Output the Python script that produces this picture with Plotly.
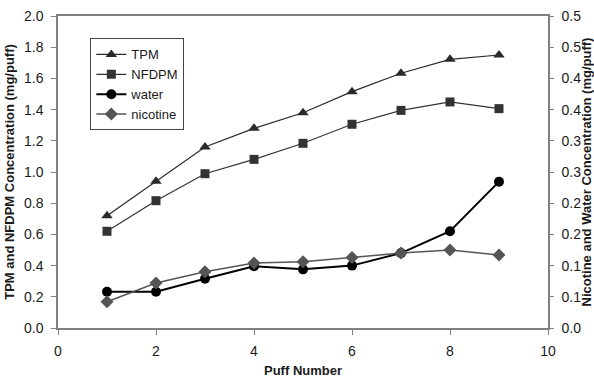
import plotly.graph_objects as go

puff = [1, 2, 3, 4, 5, 6, 7, 8, 9]
tpm = [0.72, 0.94, 1.16, 1.28, 1.38, 1.515, 1.633, 1.722, 1.75]
nfdpm = [0.62, 0.816, 0.989, 1.081, 1.184, 1.306, 1.395, 1.449, 1.406]
water = [0.058, 0.058, 0.079, 0.099, 0.094, 0.100, 0.120, 0.155, 0.2345]
nicotine = [0.042, 0.072, 0.090, 0.104, 0.106, 0.113, 0.120, 0.125, 0.117]

left_tickvals = [0, 0.2, 0.4, 0.6, 0.8, 1.0, 1.2, 1.4, 1.6, 1.8, 2.0]
right_tickvals = [0, 0.05, 0.1, 0.15, 0.2, 0.25, 0.3, 0.35, 0.4, 0.45, 0.5]
right_ticktext = ["0.0", "0.1", "0.1", "0.2", "0.2", "0.3", "0.3", "0.4", "0.4", "0.5", "0.5"]
x_tickvals = [0, 2, 4, 6, 8, 10]

font = "Liberation Sans, Arial, sans-serif"
axis_col = "#808080"

fig = go.Figure()
fig.add_trace(go.Scatter(x=puff, y=tpm, name="TPM", mode="lines+markers",
                         line=dict(color="#2a2a2a", width=1.2),
                         marker=dict(symbol="triangle-up", size=10, color="#2a2a2a")))
fig.add_trace(go.Scatter(x=puff, y=nfdpm, name="NFDPM", mode="lines+markers",
                         line=dict(color="#333333", width=1.2),
                         marker=dict(symbol="square", size=9, color="#333333")))
fig.add_trace(go.Scatter(x=puff, y=water, name="water", mode="lines+markers", yaxis="y2",
                         line=dict(color="#000000", width=2),
                         marker=dict(symbol="circle", size=10, color="#000000")))
fig.add_trace(go.Scatter(x=puff, y=nicotine, name="nicotine", mode="lines+markers", yaxis="y2",
                         line=dict(color="#555555", width=1.5),
                         marker=dict(symbol="diamond", size=10, color="#555555")))

fig.update_layout(
    width=594, height=378,
    margin=dict(l=58, r=46, t=16, b=50, autoexpand=False),
    paper_bgcolor="white", plot_bgcolor="white",
    font=dict(family=font, size=14, color="#1a1a1a"),
    showlegend=True,
    legend=dict(x=0.066, y=0.928, xanchor="left", yanchor="top",
                bordercolor="#444", borderwidth=1, bgcolor="white",
                font=dict(size=13), tracegroupgap=0, itemwidth=30),
    xaxis=dict(range=[0, 10], tickvals=x_tickvals, showgrid=False, zeroline=False,
               showline=True, linecolor=axis_col, linewidth=1.5, mirror=True,
               ticks="outside", ticklen=5, tickcolor=axis_col, ticklabelstandoff=4,
               automargin=False,
               title=dict(text="<b>Puff Number</b>", font=dict(size=13), standoff=10)),
    yaxis=dict(range=[0, 2.0], tickvals=left_tickvals,
               tickformat=".1f", showgrid=False, zeroline=False,
               showline=True, linecolor=axis_col, linewidth=1.5,
               ticks="outside", ticklen=5, tickcolor=axis_col, ticklabelstandoff=5,
               automargin=False,
               title=dict(text="<b>TPM and NFDPM Concentration (mg/puff)</b>", font=dict(size=13), standoff=6)),
    yaxis2=dict(range=[0, 0.5], overlaying="y", side="right",
                tickvals=right_tickvals, ticktext=right_ticktext,
                showgrid=False, zeroline=False,
                showline=True, linecolor=axis_col, linewidth=1.5,
                ticks="outside", ticklen=4, tickcolor=axis_col, ticklabelstandoff=5,
                automargin=False,
                title=dict(text="<b>Nicotine and Water Concentration (mg/puff)</b>", font=dict(size=13), standoff=4)),
    yaxis3=dict(range=[0, 0.5], overlaying="y", side="right", anchor="x",
                tickvals=right_tickvals, showticklabels=False,
                showgrid=False, zeroline=False, showline=False,
                ticks="inside", ticklen=5, tickcolor=axis_col, automargin=False),
)

fig.write_html("out.html", config={"displayModeBar": False},
               post_script="document.body.style.margin='0';document.body.style.overflow='hidden';")
